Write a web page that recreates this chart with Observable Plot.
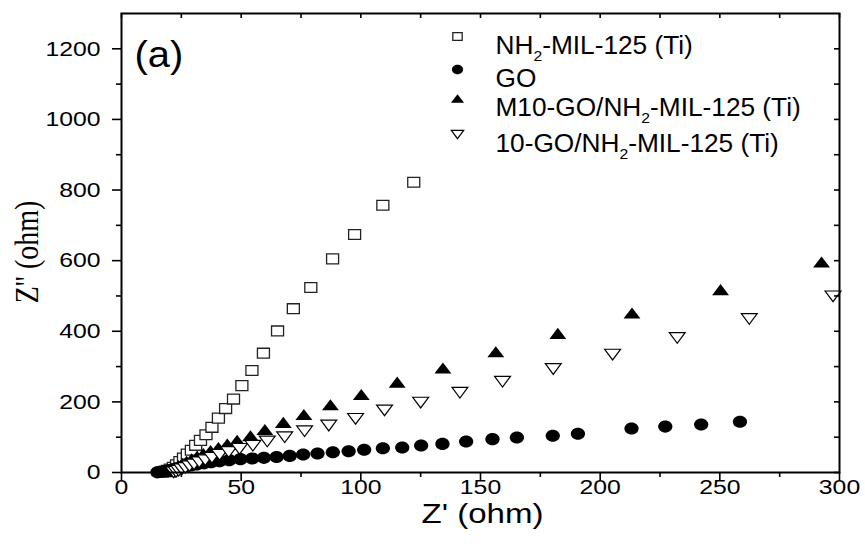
<!DOCTYPE html>
<html>
<head>
<meta charset="utf-8">
<script src="https://cdn.jsdelivr.net/npm/d3@7"></script>
<script src="https://cdn.jsdelivr.net/npm/@observablehq/plot@0.6"></script>
<style>
  html, body { margin: 0; padding: 0; background: #fff; }
  #chart { width: 865px; height: 548px; }
</style>
</head>
<body>
<div id="chart"></div>
<script>
// ---------- data ----------
const seriesNames = ["NH₂-MIL-125 (Ti)", "GO", "M10-GO/NH₂-MIL-125 (Ti)", "10-GO/NH₂-MIL-125 (Ti)"];

const nh2X = [17.0,18.0,19.2,20.4,21.7,23.0,24.4,25.9,27.5,29.2,31.0,33.0,35.3,37.8,40.5,43.5,46.8,50.3,54.5,59.3,65.2,71.8,79.1,88.2,97.4,109.2,122.1];
const nh2Y = [1,3,6,10,15,22,31,41,52,63,77,91,107,128,154,181,208,246,289,338,401,464,524,605,674,757,822];

const goX = [15.0,16.5,18.0,19.5,21.0,22.5,24.5,26.5,29.0,31.5,34.5,37.5,41.0,45.0,49.7,54.6,59.5,64.8,70.3,75.9,81.9,88.3,94.9,101.4,109.2,117.3,125.2,134.1,144.0,155.0,165.2,180.2,190.7,213.1,227.2,242.2,258.4];
const goY = [0.5,2,4,6,8,11,14,17,20,23,26,29,32,35,37.7,39.7,41.6,44,47,51,53.8,57.5,60.3,64.3,68.8,70.8,76.5,81,87.8,94.5,99,104,109.6,124.6,130,136,143.6];

const m10X = [19.2,20.1,21.2,22.4,23.8,25.4,27.2,29.3,31.6,34.2,37.2,40.5,44.2,48.3,53.9,59.9,67.6,76.2,87.3,100.2,115.2,134.3,156.4,182.3,213.3,250.3,292.5];
const m10Y = [2,5,9,14,20,26,32,39,46,54,62,71,81,91,104,122,142,164,192,221,256,296,342,394,452,518,596];

const tenX = [21.8,22.8,23.9,25.2,26.7,28.4,30.3,32.5,35.0,37.8,41.0,44.8,49.3,54.9,60.9,68.2,76.5,86.6,97.8,109.9,125.0,141.4,159.2,180.4,205.2,232.2,262.3,297.3];
const tenY = [0.5,2,5,9,13,18,23,29,35,42,50,58,67,76,88,100,117,133,152,176,198,226,257,293,334,381,435,499];

const xMajor = [0,50,100,150,200,250,300];
const xMinor = [25,75,125,175,225,275];
const yMajor = [0,200,400,600,800,1000,1200];
const yMinor = [100,300,500,700,900,1100];
const xLabel = "Z' (ohm)";
const yLabel = "Z'' (ohm)";
const panelTag = "(a)";

// ---------- custom marker shapes (Origin-like, slightly flattened) ----------
const unit = size => Math.sqrt(size / Math.PI);
const rectSym = { draw(c, size) { const s = unit(size), w = 1.0*s, h = 0.82*s; c.moveTo(-w,-h); c.lineTo(w,-h); c.lineTo(w,h); c.lineTo(-w,h); c.closePath(); } };
const ellSym = { draw(c, size) { const s = unit(size), rx = 1.08*s, ry = 0.92*s, k = 0.5523, kx = k*rx, ky = k*ry;
  c.moveTo(rx,0); c.bezierCurveTo(rx,ky,kx,ry,0,ry); c.bezierCurveTo(-kx,ry,-rx,ky,-rx,0);
  c.bezierCurveTo(-rx,-ky,-kx,-ry,0,-ry); c.bezierCurveTo(kx,-ry,rx,-ky,rx,0); c.closePath(); } };
const triUpSym = { draw(c, size) { const s = unit(size), w = 1.3*s, h = 0.85*s; c.moveTo(0,-h); c.lineTo(w,h); c.lineTo(-w,h); c.closePath(); } };
const triDnSym = { draw(c, size) { const s = unit(size), w = 1.22*s, h = 0.82*s; c.moveTo(-w,-h); c.lineTo(w,-h); c.lineTo(0,h); c.closePath(); } };

const rows = (xs, ys) => xs.map((x, i) => ({x, y: ys[i]}));
const nh2 = rows(nh2X, nh2Y), go = rows(goX, goY), m10 = rows(m10X, m10Y), ten = rows(tenX, tenY);

const W = 865, H = 548, mL = 121, mR = 26, mT = 13, mB = 76;
const pw = W - mL - mR, ph = H - mT - mB;
const sans = "'Liberation Sans', Arial, Helvetica, sans-serif";
const serif = "'Liberation Serif', 'Times New Roman', serif";

const styles = [
  {symbol: rectSym, fill: "white", stroke: "#222", strokeWidth: 1.3, r: 6},
  {symbol: ellSym, fill: "black", stroke: "none", r: 6.6},
  {symbol: triUpSym, fill: "black", stroke: "none", r: 6.5},
  {symbol: triDnSym, fill: "white", stroke: "black", strokeWidth: 1.2, r: 6.5}
];
const legendDy = [23, 56, 85, 121];

const legendMarks = seriesNames.flatMap((name, i) => [
  Plot.dot([0], {frameAnchor: "top-left", dx: 336, dy: legendDy[i], ...styles[i], r: styles[i].r * 0.78}),
  Plot.text([name], {frameAnchor: "top-left", dx: 374, dy: legendDy[i], textAnchor: "start", fontSize: 25, fontFamily: sans, fill: "black"})
]);

const chart = Plot.plot({
  width: W, height: H,
  marginLeft: mL, marginRight: mR, marginTop: mT, marginBottom: mB,
  x: {domain: [0, 300], axis: null},
  y: {domain: [0, 1300], axis: null},
  style: {background: "white", fontFamily: sans},
  marks: [
    Plot.dot(nh2, {x: "x", y: "y", ...styles[0]}),
    Plot.dot(go, {x: "x", y: "y", ...styles[1]}),
    Plot.dot(m10, {x: "x", y: "y", ...styles[2]}),
    Plot.dot(ten, {x: "x", y: "y", ...styles[3]}),
    // ticks: bottom (outward), top (inward), left (outward), right (inward)
    Plot.ruleX(xMajor, {x: d => d, insetTop: ph, insetBottom: -9, stroke: "black", strokeWidth: 1.6}),
    Plot.ruleX(xMinor, {x: d => d, insetTop: ph, insetBottom: -5, stroke: "black", strokeWidth: 1.6}),
    Plot.ruleX([...xMajor, ...xMinor], {x: d => d, insetTop: 0, insetBottom: ph - 5, stroke: "black", strokeWidth: 1.6}),
    Plot.ruleY(yMajor, {y: d => d, insetLeft: -9, insetRight: pw, stroke: "black", strokeWidth: 1.6}),
    Plot.ruleY(yMinor, {y: d => d, insetLeft: -5, insetRight: pw, stroke: "black", strokeWidth: 1.6}),
    Plot.ruleY([...yMajor, ...yMinor], {y: d => d, insetLeft: pw - 5, insetRight: 0, stroke: "black", strokeWidth: 1.6}),
    Plot.frame({stroke: "black", strokeWidth: 2}),
    // tick labels
    Plot.text(xMajor, {x: d => d, text: d => String(d), frameAnchor: "bottom", dy: 21, textAnchor: "middle", fontSize: 21, fontFamily: sans, fill: "black"}),
    Plot.text(yMajor, {y: d => d, text: d => String(d), frameAnchor: "left", dx: -21, textAnchor: "end", fontSize: 21, fontFamily: sans, fill: "black"}),
    // axis labels
    Plot.text([xLabel], {frameAnchor: "bottom", dx: 2, dy: 50, textAnchor: "middle", fontSize: 28, fontFamily: sans, fill: "black"}),
    Plot.text([yLabel], {frameAnchor: "left", dx: -94, dy: 9, rotate: -90, textAnchor: "middle", fontSize: 28, fontFamily: serif, fill: "black"}),
    Plot.text([panelTag], {frameAnchor: "top-left", dx: 13, dy: 27, textAnchor: "start", fontSize: 37, fontFamily: sans, fill: "black"}),
    ...legendMarks
  ]
});
document.getElementById("chart").appendChild(chart);

// ---------- typographic touch-ups: real subscripts and Origin-like wide glyphs ----------
const SVGNS = "http://www.w3.org/2000/svg";
chart.querySelectorAll("text").forEach(t => {
  const s = t.textContent;
  if (s.includes("₂") && t.children.length === 0) {
    const [a, b] = s.split("₂");
    t.textContent = "";
    t.appendChild(document.createTextNode(a));
    const sub = document.createElementNS(SVGNS, "tspan");
    sub.setAttribute("dy", "7"); sub.setAttribute("font-size", "15"); sub.textContent = "2";
    t.appendChild(sub);
    const rest = document.createElementNS(SVGNS, "tspan");
    rest.setAttribute("dy", "-7"); rest.textContent = b;
    t.appendChild(rest);
  }
});
const numLabels = new Set([...xMajor, ...yMajor].map(String));
const legendSet = new Set(seriesNames.map(n => n.replace("₂", "2")));
chart.querySelectorAll("text").forEach(t => {
  const s = t.textContent;
  let sx = 1, sy = 1;
  if (numLabels.has(s)) sx = 1.18;
  else if (legendSet.has(s)) sx = 1.05;
  else if (s === xLabel) sx = 1.18;
  else if (s === panelTag) sx = 1.08;
  else if (s === yLabel) sy = 1.18;
  if (sx === 1 && sy === 1) return;
  const bb = t.getBBox();
  const anchor = getComputedStyle(t).textAnchor;
  const ax = anchor === "middle" ? bb.x + bb.width / 2 : anchor === "end" ? bb.x + bb.width : bb.x;
  const ay = bb.y + bb.height / 2;
  const prev = t.getAttribute("transform") || "";
  t.setAttribute("transform", `${prev} translate(${ax},${ay}) scale(${sx},${sy}) translate(${-ax},${-ay})`);
});
</script>
</body>
</html>
